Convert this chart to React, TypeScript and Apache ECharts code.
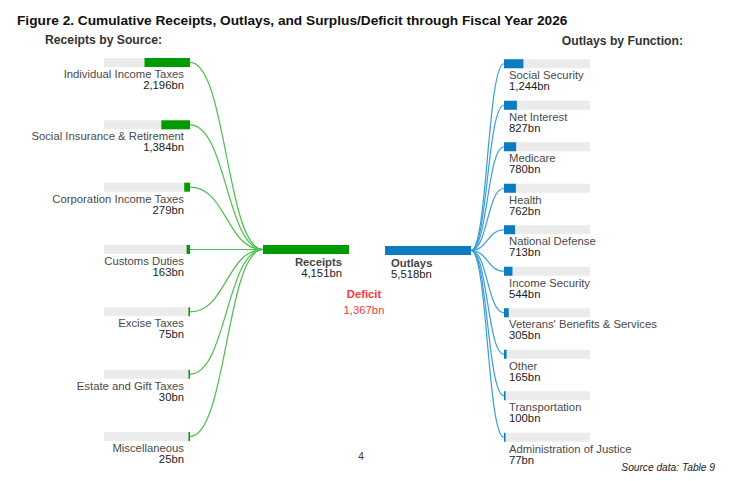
import React, { useEffect, useRef } from "react";
import * as echarts from "echarts";

// Cumulative totals (billions of dollars)
const RECEIPTS_TOTAL = 4151;
const OUTLAYS_TOTAL = 5518;

const receiptSources = [
  "Individual Income Taxes",
  "Social Insurance & Retirement",
  "Corporation Income Taxes",
  "Customs Duties",
  "Excise Taxes",
  "Estate and Gift Taxes",
  "Miscellaneous",
];
const receiptValues = [2196, 1384, 279, 163, 75, 30, 25];

const outlayFunctions = [
  "Social Security",
  "Net Interest",
  "Medicare",
  "Health",
  "National Defense",
  "Income Security",
  "Veterans' Benefits & Services",
  "Other",
  "Transportation",
  "Administration of Justice",
];
const outlayValues = [1244, 827, 780, 762, 713, 544, 305, 165, 100, 77];

const GREEN = "#009b00";
const GREEN_LINK = "#4cbf4c";
const BLUE = "#0a7cbf";
const BLUE_LINK = "#3a9ed6";
const TRACK = "#ebebeb";
const FONT = "'Liberation Sans', Arial, Helvetica, sans-serif";
const LABEL_SIZE = 11.3;

const BAR_H = 9;
const HUB_GAP_LEFT = 73; // space between source bars and the receipts bar
const HUB_GAP_RIGHT = 33; // space between the outlays bar and function bars

const fmt = (v: number) => v.toLocaleString("en-US") + "bn";

function txt(
  text: string,
  x: number,
  y: number,
  align: string,
  opts: { size?: number; weight?: string; fill?: string; style?: string } = {}
) {
  const size = opts.size ?? LABEL_SIZE;
  return {
    type: "text",
    silent: true,
    style: {
      text,
      x,
      y,
      fill: opts.fill ?? "#333",
      font: `${opts.style ?? "normal"} ${opts.weight ?? "normal"} ${size}px ${FONT}`,
      textAlign: align,
      align,
      textVerticalAlign: "middle",
      verticalAlign: "middle",
    },
  };
}

function link(x1: number, y1: number, x2: number, y2: number, color: string) {
  const mx = (x1 + x2) / 2;
  return {
    type: "bezierCurve",
    silent: true,
    shape: { x1, y1, x2, y2, cpx1: mx, cpy1: y1, cpx2: mx, cpy2: y2 },
    style: { stroke: color, lineWidth: 1.2, fill: "none" },
  };
}

export default function App() {
  const ref = useRef<HTMLDivElement>(null);

  useEffect(() => {
    if (!ref.current) return;
    const chart = echarts.init(ref.current, undefined, { renderer: "svg" });
    const deficit = OUTLAYS_TOTAL - RECEIPTS_TOTAL;

    chart.setOption({
      animation: false,
      backgroundColor: "#ffffff",
      grid: [
        { left: 104, width: 86, top: 31.3, height: 436.4 },
        { left: 504, width: 86, top: 43, height: 415 },
      ],
      xAxis: [
        { gridIndex: 0, type: "value", min: 0, max: RECEIPTS_TOTAL, inverse: true, show: false },
        { gridIndex: 1, type: "value", min: 0, max: OUTLAYS_TOTAL, show: false },
      ],
      yAxis: [
        { gridIndex: 0, type: "category", data: receiptSources, inverse: true, show: false },
        { gridIndex: 1, type: "category", data: outlayFunctions, inverse: true, show: false },
      ],
      graphic: [
        txt(
          "Figure 2. Cumulative Receipts, Outlays, and Surplus/Deficit through Fiscal Year 2026",
          17,
          20,
          "left",
          { size: 13.7, weight: "bold", fill: "#111" }
        ),
        txt("Receipts by Source:", 45, 40, "left", { size: 12.2, weight: "bold", fill: "#333" }),
        txt("Outlays by Function:", 683, 41, "right", { size: 12.2, weight: "bold", fill: "#333" }),
        txt("Deficit", 364, 294, "center", { size: 11.3, weight: "bold", fill: "#f03c3c" }),
        txt(fmt(deficit), 364, 310, "center", { size: 11.3, fill: "#f03c3c" }),
        txt("4", 361, 456, "center", { size: 10, fill: "#333" }),
        txt("Source data: Table 9", 715, 467, "right", { size: 10.2, style: "italic", fill: "#222" }),
      ],
      series: [
        {
          // Receipts by source: track, value bar, label, link to the receipts bar
          type: "custom",
          xAxisIndex: 0,
          yAxisIndex: 0,
          data: receiptValues.map((v, i) => [v, i]),
          renderItem: (params: any, api: any) => {
            const v = api.value(0);
            const i = api.value(1);
            const cs = params.coordSys;
            const right = api.coord([0, i]);
            const left = api.coord([RECEIPTS_TOTAL, i]);
            const tip = api.coord([v, i]);
            const y = right[1];
            const w = Math.max(right[0] - tip[0], 1.5);
            const hubX = cs.x + cs.width + HUB_GAP_LEFT;
            const hubY = cs.y + cs.height / 2;
            return {
              type: "group",
              children: [
                {
                  type: "rect",
                  shape: { x: left[0], y: y - BAR_H / 2, width: right[0] - left[0], height: BAR_H },
                  style: { fill: TRACK },
                },
                {
                  type: "rect",
                  shape: { x: right[0] - w, y: y - BAR_H / 2, width: w, height: BAR_H },
                  style: { fill: GREEN },
                },
                link(right[0], y, hubX, hubY, GREEN_LINK),
                txt(receiptSources[i], right[0] - 6, y + 11.5, "right", { fill: "#4a4a4a" }),
                txt(fmt(v), right[0] - 6, y + 22.5, "right", { fill: "#1c1c1c" }),
              ],
            };
          },
        },
        {
          // Total receipts bar
          type: "custom",
          xAxisIndex: 0,
          yAxisIndex: 0,
          data: [[RECEIPTS_TOTAL, 0]],
          renderItem: (params: any, api: any) => {
            const v = api.value(0);
            const cs = params.coordSys;
            const w = Math.abs(api.coord([0, 0])[0] - api.coord([v, 0])[0]);
            const hubX = cs.x + cs.width + HUB_GAP_LEFT;
            const hubY = cs.y + cs.height / 2;
            return {
              type: "group",
              children: [
                {
                  type: "rect",
                  shape: { x: hubX, y: hubY - BAR_H / 2, width: w, height: BAR_H },
                  style: { fill: GREEN },
                },
                txt("Receipts", hubX + w - 7, hubY + 12.5, "right", { weight: "bold", fill: "#444" }),
                txt(fmt(v), hubX + w - 7, hubY + 23.5, "right", { fill: "#1c1c1c" }),
              ],
            };
          },
        },
        {
          // Outlays by function: track, value bar, label, link from the outlays bar
          type: "custom",
          xAxisIndex: 1,
          yAxisIndex: 1,
          data: outlayValues.map((v, i) => [v, i]),
          renderItem: (params: any, api: any) => {
            const v = api.value(0);
            const i = api.value(1);
            const cs = params.coordSys;
            const left = api.coord([0, i]);
            const right = api.coord([OUTLAYS_TOTAL, i]);
            const tip = api.coord([v, i]);
            const y = left[1];
            const w = Math.max(tip[0] - left[0], 1.5);
            const hubX = cs.x - HUB_GAP_RIGHT;
            const hubY = cs.y + cs.height / 2;
            return {
              type: "group",
              children: [
                {
                  type: "rect",
                  shape: { x: left[0], y: y - BAR_H / 2, width: right[0] - left[0], height: BAR_H },
                  style: { fill: TRACK },
                },
                {
                  type: "rect",
                  shape: { x: left[0], y: y - BAR_H / 2, width: w, height: BAR_H },
                  style: { fill: BLUE },
                },
                link(hubX, hubY, left[0], y, BLUE_LINK),
                txt(outlayFunctions[i], left[0] + 5, y + 11.5, "left", { fill: "#4a4a4a" }),
                txt(fmt(v), left[0] + 5, y + 22.5, "left", { fill: "#1c1c1c" }),
              ],
            };
          },
        },
        {
          // Total outlays bar
          type: "custom",
          xAxisIndex: 1,
          yAxisIndex: 1,
          data: [[OUTLAYS_TOTAL, 0]],
          renderItem: (params: any, api: any) => {
            const v = api.value(0);
            const cs = params.coordSys;
            const w = Math.abs(api.coord([v, 0])[0] - api.coord([0, 0])[0]);
            const hubX = cs.x - HUB_GAP_RIGHT;
            const hubY = cs.y + cs.height / 2;
            return {
              type: "group",
              children: [
                {
                  type: "rect",
                  shape: { x: hubX - w, y: hubY - BAR_H / 2, width: w, height: BAR_H },
                  style: { fill: BLUE },
                },
                txt("Outlays", hubX - w + 6, hubY + 12.5, "left", { weight: "bold", fill: "#444" }),
                txt(fmt(v), hubX - w + 6, hubY + 23.5, "left", { fill: "#1c1c1c" }),
              ],
            };
          },
        },
      ],
    });

    return () => chart.dispose();
  }, []);

  return (
    <div
      ref={ref}
      style={{ position: "fixed", left: 0, top: 0, width: 730, height: 481 }}
    />
  );
}
